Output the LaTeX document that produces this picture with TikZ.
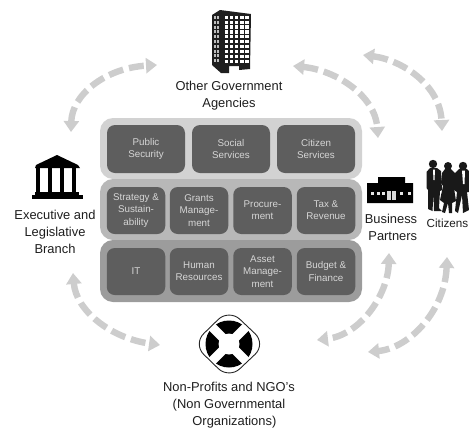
\documentclass[tikz,border=0pt]{standalone}
\usepackage{fontspec}
\setmainfont{Liberation Sans}
\usetikzlibrary{arrows.meta}
\definecolor{bandA}{HTML}{D2D2D2}
\definecolor{bandB}{HTML}{B8B8B8}
\definecolor{bandC}{HTML}{9C9C9C}
\definecolor{boxfill}{HTML}{5E5E5E}
\definecolor{boxtext}{HTML}{D6D6D6}
\definecolor{flow}{HTML}{CDCDCD}
\definecolor{ink}{HTML}{1E1E1E}
\tikzset{
  band/.style={rectangle,rounded corners=13pt,minimum width=262pt,inner sep=0pt},
  svc/.style={rectangle,rounded corners=8pt,fill=boxfill,text=boxtext,inner sep=0pt,align=center,
     font=\fontsize{9.8}{12.3}\selectfont},
  wide/.style={svc,minimum width=78pt,minimum height=48pt},
  narrow/.style={svc,minimum width=58.5pt,minimum height=47pt},
  lbl/.style={text=ink,align=center,inner sep=0pt,font=\fontsize{12.9}{17}\selectfont},
  flowline/.style={draw=flow,line width=6.4pt,dash pattern=on 15pt off 6pt,
     {Triangle[length=11pt,width=15pt,fill=flow]}-{Triangle[length=11pt,width=15pt,fill=flow]}},
}
\begin{document}
\begin{tikzpicture}[x=1pt,y=-1pt]
\useasboundingbox (0,0) rectangle (469,429);
% bands
\node[band,fill=bandA,minimum height=61pt] (bandtop) at (231,148.5) {};
\node[band,fill=bandB,minimum height=61pt] (bandmid) at (231,209.5) {};
\node[band,fill=bandC,minimum height=62pt] (bandbot) at (231,271) {};
% services
\node[wide] (pub) at (146,149) {Public\\Security};
\node[wide] (soc) at (231,149) {Social\\Services};
\node[wide] (cit) at (316,149) {Citizen\\Services};
\node[narrow] (str) at (136,210.5) {Strategy \&\\Sustain-\\ability};
\node[narrow] (gra) at (199,210.5) {Grants\\Manage-\\ment};
\node[narrow] (pro) at (262.5,210.5) {Procure-\\ment};
\node[narrow] (tax) at (326,210.5) {Tax \&\\Revenue};
\node[narrow] (itx) at (136,271.5) {IT};
\node[narrow] (hum) at (199,271.5) {Human\\Resources};
\node[narrow] (ass) at (262.5,271.5) {Asset\\Manage-\\ment};
\node[narrow] (bud) at (326,271.5) {Budget \&\\Finance};
% labels
\node[lbl] (lgov) at (229,96) {Other Government\\Agencies};
\node[lbl] (lexe) at (55,231.5) {Executive and\\Legislative\\Branch};
\node[lbl] (lbus) at (391,227) {Business\\\ Partners};
\node[lbl,anchor=west,font=\fontsize{11.7}{14}\selectfont] (lcit) at (426.5,223) {Citizens};
\node[lbl] (lngo) at (229,405.5) {Non-Profits and NGO's\\(Non Governmental\\\ \ \ Organizations)};
% flow arrows
\coordinate (a1) at (71,132); \coordinate (a2) at (157,65);
\coordinate (b1) at (293,66); \coordinate (b2) at (378,138);
\coordinate (c1) at (363,55); \coordinate (c2) at (442,131);
\coordinate (d1) at (73,273); \coordinate (d2) at (160,345);
\coordinate (e1) at (389,253); \coordinate (e2) at (317,340);
\coordinate (f1) at (447,257); \coordinate (f2) at (368,352);
\draw[flowline] (a1) .. controls (72,95) and (105,68) .. (a2);
\draw[flowline] (b1) .. controls (335,70) and (375,95) .. (b2);
\draw[flowline] (c1) .. controls (402,60) and (440,85) .. (c2);
\draw[flowline] (d1) .. controls (76,310) and (110,338) .. (d2);
\draw[flowline] (e1) .. controls (388,295) and (360,335) .. (e2);
\draw[flowline] (f1) .. controls (445,310) and (410,348) .. (f2);
% building
\fill[black!88] (212,15) -- (220,10) -- (251,14) -- (250,69) -- (239,70) -- (239,66) -- (229,66) -- (229,73) -- (221,73) -- (212,65) -- cycle;
\foreach \c in {0,...,4}{\foreach \r in {0,...,9}{
  \fill[white] ({224.6+\c*5.2},{15.6+\r*4.9}) rectangle ++(3.4,3.2);}}
\foreach \c in {0,1}{\foreach \r in {0,...,9}{
  \fill[white!75!black] ({214+\c*3.2},{16+\r*4.8}) rectangle ++(1.7,3);}}
% temple
\fill[black] (57,155) -- (78,165) -- (80,168) -- (35,168) -- (36,165) -- cycle;
\foreach \x in {36,48,60,72}{\fill[black] (\x,168) rectangle ++(4.4,25);}
\fill[black] (35,192) rectangle (79,195);
\fill[black] (32,195) rectangle (83,199);
% business building
\fill[black] (367,183) -- (378,183) -- (378,177) -- (405,177) -- (405,183) -- (413,183) -- (413,203) -- (367,203) -- cycle;
\foreach \x in {371,377,382,400,408}{\fill[white!90!black] (\x,192) rectangle ++(3,3);}
\fill[white!85!black] (387,191) rectangle (391,200);
\fill[white!85!black] (392,191) rectangle (396,200);
% citizens
\fill[black!90] (433,164) circle (4.2);
\fill[black!90] (426.5,172) -- (430,168) -- (437,168) -- (441,171) -- (442,190) -- (440,191) -- (439,208) -- (442,211) -- (434,211) -- (433.5,193) -- (432.5,211) -- (428,209) -- (428,190) -- (426.5,188) -- cycle;
\fill[black!90] (448,166) circle (4);
\fill[black!90] (442,173) -- (445,169) -- (451,169) -- (455,173) -- (456,185) -- (454,188) -- (456,201) -- (452,203) -- (452,213) -- (449,213) -- (448,203) -- (445,213) -- (442,212) -- (444,203) -- (440,200) -- (443,186) -- (441,183) -- cycle;
\fill[black!90] (463,166) circle (4.2);
\fill[black!90] (455,173) -- (459,169) -- (467,169) -- (469,171) -- (469,192) -- (467,192) -- (469,210) -- (463,213) -- (462,195) -- (458,213) -- (455,211) -- (457,192) -- (454,190) -- cycle;
\fill[white] (462,170.5) -- (465,170.5) -- (464.5,184) -- (463,184) -- cycle;
\fill[white] (433,169.5) -- (435,169.5) -- (434.5,180) -- (433.5,180) -- cycle;
% lifebuoy
\fill[black] (229,344) circle (23.5);
\fill[white] (229,344) circle (10.5);
\begin{scope}[shift={(229,344)},rotate=45]
\fill[white] (-25,-4.5) rectangle (25,4.5);
\fill[white] (-4.5,-25) rectangle (4.5,25);
\end{scope}
\draw[black!85,line width=.9pt,rounded corners=15pt] (229,309) -- (266,344) -- (229,379) -- (193,344) -- cycle;
\end{tikzpicture}
\end{document}
